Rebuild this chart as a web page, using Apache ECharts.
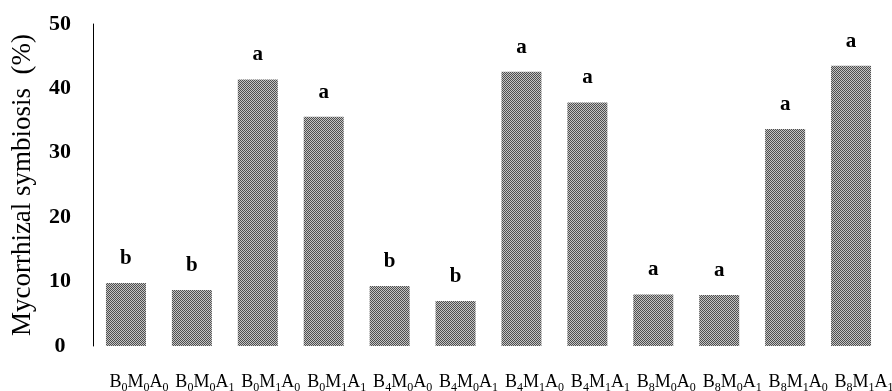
<!DOCTYPE html>
<html><head><meta charset="utf-8">
<script src="https://cdn.jsdelivr.net/npm/echarts@6/dist/echarts.min.js"></script>
<style>html,body{margin:0;padding:0;background:#fff}#c{width:892px;height:391px}</style>
</head><body><div id="c"></div>
<script>
var categories = ['B0M0A0','B0M0A1','B0M1A0','B0M1A1','B4M0A0','B4M0A1','B4M1A0','B4M1A1','B8M0A0','B8M0A1','B8M1A0','B8M1A1'];
var values = [9.8, 8.7, 41.4, 35.6, 9.3, 7.0, 42.6, 37.8, 8.0, 7.9, 33.7, 43.5];
var letters = ['b','b','a','a','b','b','a','a','a','a','a','a'];
var yTicks = [0, 10, 20, 30, 40, 50];

var pc = document.createElement('canvas');
pc.width = 2; pc.height = 2;
var g = pc.getContext('2d');
g.fillStyle = '#4e4e4e'; g.fillRect(0,0,2,2);
g.fillStyle = '#c4c4c4'; g.fillRect(1,0,1,1); g.fillRect(0,1,1,1);

var serif = '"Liberation Serif","Times New Roman",serif';
function fmtCat(s){
  return s.replace(/([A-Z])(\d)/g, function(m,a,b){ return '{m|' + a + '}{s|' + b + '}'; });
}
var chart = echarts.init(document.getElementById('c'));
chart.setOption({
  animation: false,
  grid: {left: 93, right: 8, top: 24, bottom: 45, containLabel: false, outerBoundsMode: 'none'},
  xAxis: {
    type: 'category', data: categories,
    axisLine: {show: false}, axisTick: {show: false},
    axisLabel: {
      interval: 0, margin: 25, color: '#000', hideOverlap: false,
      fontFamily: serif, fontSize: 18, padding: [0, 0, 0, 26],
      formatter: function(v){ return fmtCat(v); },
      rich: {
        m: {fontFamily: serif, fontSize: 18, color: '#000', lineHeight: 20, verticalAlign: 'bottom'},
        s: {fontFamily: serif, fontSize: 12, color: '#000', lineHeight: 20, verticalAlign: 'bottom', padding: [0,0,-3,0]}
      }
    }
  },
  yAxis: {
    type: 'value', min: yTicks[0], max: yTicks[yTicks.length-1], interval: 10,
    name: 'Mycorrhizal symbiosis  (%)', nameLocation: 'middle', nameGap: 57,
    nameTextStyle: {fontFamily: serif, fontSize: 27, color: '#000'},
    axisLine: {show: true, lineStyle: {color: '#000', width: 1}},
    axisTick: {show: false}, splitLine: {show: false},
    axisLabel: {fontFamily: serif, fontSize: 22, fontWeight: 'bold', color: '#000', margin: 33, align: 'center'}
  },
  series: [{
    type: 'bar', data: values, barWidth: 40,
    itemStyle: {color: {image: pc, repeat: 'repeat'}},
    label: {
      show: true, position: 'top', distance: 14,
      fontFamily: serif, fontSize: 21, fontWeight: 'bold', color: '#000',
      formatter: function(p){ return letters[p.dataIndex]; }
    }
  }]
});
</script></body></html>
